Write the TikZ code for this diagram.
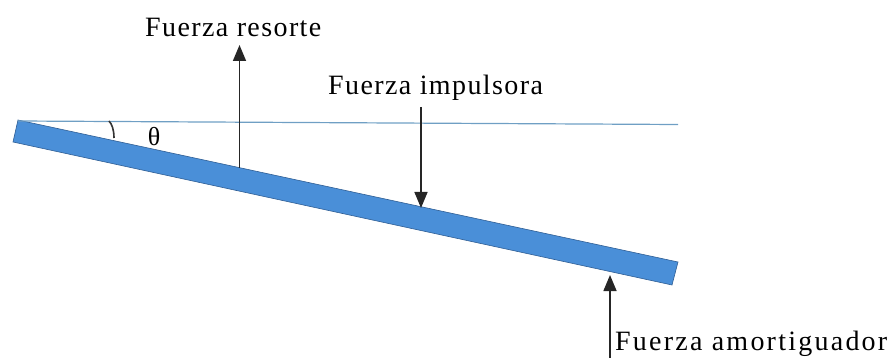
\documentclass[tikz,border=0pt]{standalone}
\usepackage{fontspec}
\setmainfont{Liberation Serif}
\newfontfamily\labfont{Liberation Serif}[LetterSpace=5]
\newfontfamily\labwide{Liberation Serif}[LetterSpace=8]
\usetikzlibrary{arrows.meta}
\definecolor{barblue}{HTML}{4A8FD8}
\definecolor{baredge}{HTML}{2F5E94}
\definecolor{refline}{HTML}{6F9FC4}
\begin{document}
\begin{tikzpicture}[x=1pt,y=-1pt,
  force/.style={draw=black!85, line width=1.6pt, -{Triangle[width=13pt,length=16pt]}},
  lab/.style={anchor=base west, inner sep=0pt, font=\fontsize{28}{30}\labfont},
  labw/.style={anchor=base west, inner sep=0pt, font=\fontsize{28}{30}\labwide}]
\useasboundingbox (0,0) rectangle (891,358);
% bar
\coordinate (tl) at (18,120);
\coordinate (tr) at (678,262);
\coordinate (br) at (672,285);
\coordinate (bl) at (13,142);
\fill[barblue, draw=baredge, line width=0.6pt] (tl) -- (tr) -- (br) -- (bl) -- cycle;
% horizontal reference line
\coordinate (hr) at (678,124.5);
\draw[refline, line width=1.2pt] (tl) ++(0,1) -- (hr);
% angle arc
\coordinate (a0) at (109,121);
\coordinate (a1) at (114,138);
\draw[black!80, line width=1.6pt] (a0) .. controls (112,124) and (114,130) .. (a1);
\node[inner sep=0pt, font=\fontsize{26}{28}\selectfont] (theta) at (154,137) {θ};
% forces
\coordinate (rs0) at (239.5,168);
\coordinate (rs1) at (239.5,45);
\draw[force] (rs0) -- (rs1);
\coordinate (im0) at (421,107);
\coordinate (im1) at (421,208);
\draw[force] (im0) -- (im1);
\coordinate (am0) at (610,360);
\coordinate (am1) at (610,275);
\draw[force] (am0) -- (am1);
% labels
\node[lab] (lres) at (145,36.5) {Fuerza resorte};
\node[lab] (limp) at (328,95) {Fuerza impulsora};
\node[labw] (lamo) at (615,350) {Fuerza amortiguador};
\end{tikzpicture}
\end{document}
